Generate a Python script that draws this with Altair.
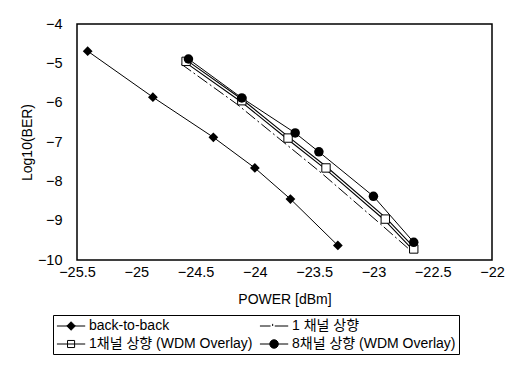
import altair as alt
import pandas as pd

series = ["back-to-back", "1 채널 상향", "1채널 상향 (WDM Overlay)", "8채널 상향 (WDM Overlay)"]

bb_x = [-25.41, -24.86, -24.35, -24.0, -23.7, -23.3]
bb_y = [-4.69, -5.86, -6.88, -7.66, -8.45, -9.63]

c1_x = [-24.62, -24.15, -23.76, -23.45, -22.95, -22.69]
c1_y = [-5.02, -6.04, -7.0, -7.76, -9.06, -9.75]

sq_x = [-24.58, -24.11, -23.72, -23.40, -22.90, -22.66]
sq_y = [-4.95, -5.95, -6.90, -7.66, -8.96, -9.72]

c8_x = [-24.56, -24.11, -23.66, -23.46, -23.0, -22.66]
c8_y = [-4.89, -5.88, -6.77, -7.25, -8.38, -9.55]

x_ticks = [-25.5, -25, -24.5, -24, -23.5, -23, -22.5, -22]
y_ticks = [-10, -9, -8, -7, -6, -5, -4]

rows = []
for name, xs, ys in zip(series, [bb_x, c1_x, sq_x, c8_x], [bb_y, c1_y, sq_y, c8_y]):
    for i, (x, y) in enumerate(zip(xs, ys)):
        rows.append({"series": name, "power": x, "ber": y, "order": i})
df = pd.DataFrame(rows)

FONT = "Liberation Sans, Noto Sans CJK KR, sans-serif"

xenc = alt.X("power:Q", scale=alt.Scale(domain=[-25.5, -22], nice=False, zero=False),
             axis=alt.Axis(values=x_ticks, format="~g", title="POWER [dBm]", labelPadding=5,
                           titlePadding=14, labelFlush=False, labelOverlap=False))
yenc = alt.Y("ber:Q", scale=alt.Scale(domain=[-10, -4], nice=False, zero=False),
             axis=alt.Axis(values=y_ticks, format="d", title="Log10(BER)", labelPadding=15,
                           titlePadding=3, labelFlush=False, labelOverlap=False))

base = alt.Chart(df)


def sel(name):
    return base.transform_filter(alt.datum.series == name)


enc = dict(x=xenc, y=yenc, order="order:Q")

bb_line = sel(series[0]).mark_line(color="black", strokeWidth=1).encode(**enc)
c1_line = sel(series[1]).mark_line(color="black", strokeWidth=1, strokeDash=[12, 3, 2, 3]).encode(**enc)
sq_outer = sel(series[2]).mark_line(color="black", strokeWidth=3.6).encode(**enc)
sq_inner = sel(series[2]).mark_line(color="white", strokeWidth=1.4).encode(**enc)
c8_line = sel(series[3]).mark_line(color="black", strokeWidth=1).encode(**enc)

bb_pts = sel(series[0]).mark_point(shape="diamond", filled=True, color="black", size=95, opacity=1).encode(x=xenc, y=yenc)
sq_pts = sel(series[2]).mark_point(shape="square", fill="white", stroke="black", strokeWidth=1, size=70, opacity=1).encode(x=xenc, y=yenc)
c8_pts = sel(series[3]).mark_point(shape="circle", filled=True, color="black", size=90, opacity=1).encode(x=xenc, y=yenc)

legend_paths = [
    "M-1,0H3M1,-0.6L1.6,0L1,0.6L0.4,0Z",
    "M-1,0H0.5M0.8,-0.3V0M1.1,0H3",
    "M-1,0H3M0.5,-0.5H1.5V0.5H0.5Z",
    "M-1,0H3M1.6,0A0.6,0.6 0 1,1 0.4,0A0.6,0.6 0 1,1 1.6,0Z",
]
legend_fills = ["black", "black", "white", "black"]
legend_strokes = ["black", "black", "black", "black"]

leg = alt.Legend(title=None, orient="none", legendX=-24, legendY=291, columns=2, direction="horizontal",
                 strokeColor="black", padding=3, rowPadding=3, columnPadding=4,
                 symbolSize=200, symbolStrokeColor="black", symbolStrokeWidth=1,
                 symbolOpacity=1, labelOffset=17, labelFont=FONT, labelFontSize=14,
                 labelLimit=400, labelColor="black", fillColor="white")

legend_layer = base.transform_filter("false").mark_point(stroke="black", strokeWidth=1, opacity=1).encode(
    x=xenc, y=yenc,
    shape=alt.Shape("series:N", scale=alt.Scale(domain=series, range=legend_paths), legend=leg),
    fill=alt.Fill("series:N", scale=alt.Scale(domain=series, range=legend_fills), legend=leg),
    stroke=alt.Stroke("series:N", scale=alt.Scale(domain=series, range=legend_strokes), legend=leg),
)

chart = alt.layer(
    bb_line, c1_line, sq_outer, sq_inner, c8_line, bb_pts, sq_pts, c8_pts, legend_layer
).properties(
    width=415, height=236,
    padding={"left": 69, "top": 16, "right": 19, "bottom": 97},
    autosize=alt.AutoSizeParams(type="none"),
).configure_view(
    stroke="black", strokeWidth=1.5
).configure_axis(
    domain=False, ticks=False, grid=False,
    labelFont=FONT, labelFontSize=14.5, labelColor="black",
    titleFont=FONT, titleFontSize=14, titleFontWeight="normal", titleColor="black",
)

chart.save("out.html", embed_options={"renderer": "svg", "actions": False})
